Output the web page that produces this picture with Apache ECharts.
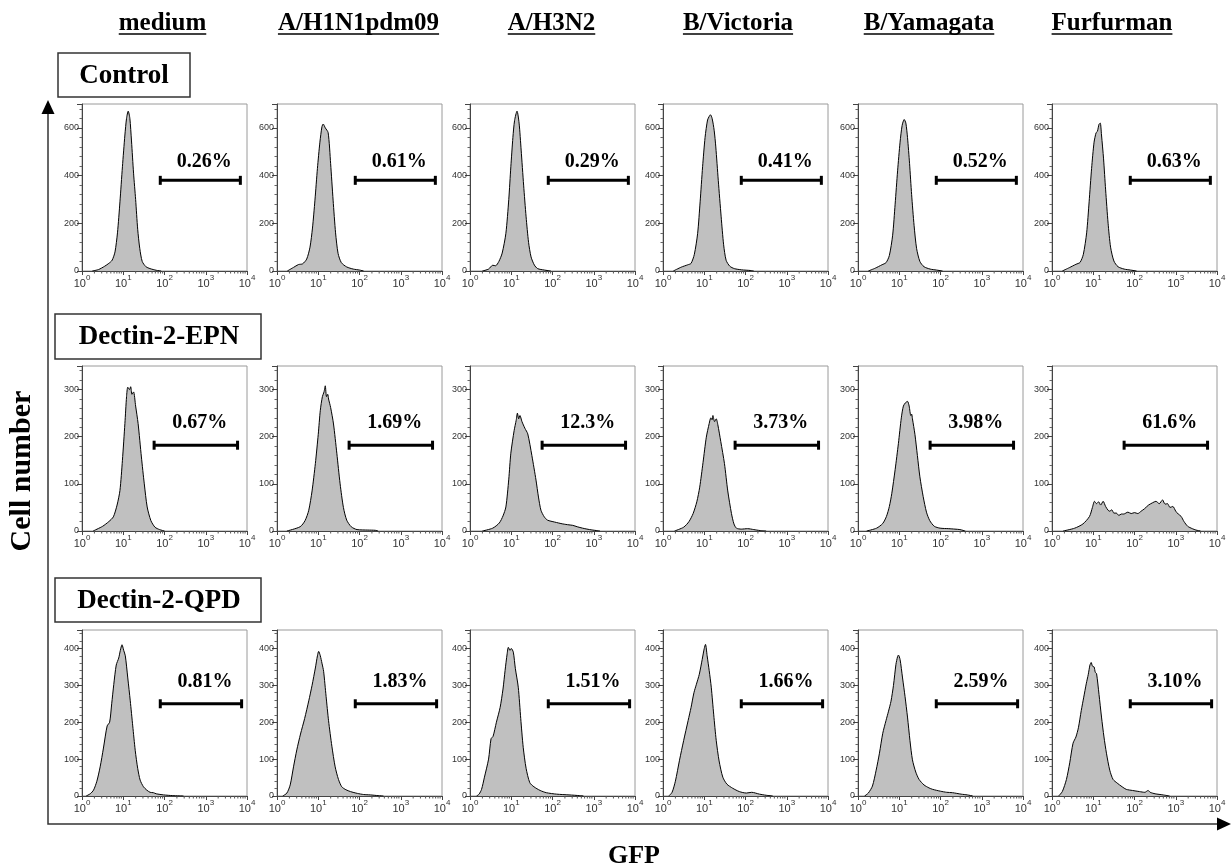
<!DOCTYPE html>
<html><head><meta charset="utf-8">
<script src="https://cdn.jsdelivr.net/npm/echarts@6/dist/echarts.min.js"></script>
<style>html,body{margin:0;padding:0;background:#fff;}#c{width:1231px;height:868px;}</style>
</head><body><div id="c"></div>
<script>
// ---------------- DATA ----------------
const columns = ['medium', 'A/H1N1pdm09', 'A/H3N2', 'B/Victoria', 'B/Yamagata', 'Furfurman'];
const groups = ['Control', 'Dectin-2-EPN', 'Dectin-2-QPD'];
const percentControl = ['0.26%', '0.61%', '0.29%', '0.41%', '0.52%', '0.63%'];
const percentEPN = ['0.67%', '1.69%', '12.3%', '3.73%', '3.98%', '61.6%'];
const percentQPD = ['0.81%', '1.83%', '1.51%', '1.66%', '2.59%', '3.10%'];
const yMaxByRow = [700, 350, 450];
const yStepByRow = [200, 100, 100];
const minorTicksX = [2,3,4,5,6,7,8,9,20,30,40,50,60,70,80,90,200,300,400,500,600,700,800,900,2000,3000,4000,5000,6000,7000,8000,9000];
// gate (marker bar) per row: GFP from, GFP to, cell-number level
const gateFrom = [79, 56, 79];
const gateTo = [6900, 5900, 7400];
const gateLevel = [380, 182, 250];

// histograms: [log10(GFP), cell number]
const ctlMedium = [[0.25,0],[0.4,6],[0.55,20],[0.65,32],[0.73,45],[0.8,80],[0.86,160],[0.92,290],[0.98,437],[1.04,570],[1.08,640],[1.12,670],[1.16,640],[1.2,545],[1.25,410],[1.3,300],[1.35,175],[1.4,95],[1.46,40],[1.55,18],[1.65,10],[1.8,3],[1.92,0]];
const ctlH1N1 = [[0.25,0],[0.4,15],[0.52,27],[0.62,30],[0.72,50],[0.8,100],[0.86,180],[0.92,297],[0.98,430],[1.04,540],[1.09,605],[1.12,616],[1.17,600],[1.24,580],[1.3,450],[1.36,297],[1.42,160],[1.48,74],[1.56,35],[1.69,17],[1.85,8],[2.0,4],[2.1,0]];
const ctlH3N2 = [[0.3,0],[0.45,8],[0.55,24],[0.62,22],[0.7,40],[0.78,75],[0.87,158],[0.94,300],[0.99,437],[1.04,560],[1.08,630],[1.14,670],[1.19,620],[1.24,507],[1.3,360],[1.36,227],[1.42,120],[1.48,59],[1.56,25],[1.64,10],[1.8,4],[1.96,0]];
const ctlVictoria = [[0.25,0],[0.44,16],[0.6,26],[0.68,32],[0.76,70],[0.84,158],[0.9,290],[0.96,437],[1.02,560],[1.08,633],[1.12,648],[1.15,655],[1.19,640],[1.24,590],[1.28,520],[1.34,380],[1.41,227],[1.47,110],[1.53,45],[1.62,20],[1.73,10],[1.9,5],[2.13,2],[2.2,0]];
const ctlYamagata = [[0.25,0],[0.42,12],[0.58,26],[0.68,35],[0.76,65],[0.84,150],[0.9,280],[0.96,420],[1.02,540],[1.07,610],[1.12,635],[1.16,620],[1.2,560],[1.25,450],[1.3,320],[1.36,190],[1.42,95],[1.5,40],[1.6,18],[1.75,8],[1.9,4],[2.05,0]];
const ctlFurfurman = [[0.25,0],[0.42,14],[0.58,28],[0.68,36],[0.76,70],[0.84,160],[0.9,290],[0.96,430],[1.02,540],[1.07,580],[1.1,585],[1.14,615],[1.17,620],[1.2,570],[1.25,470],[1.3,340],[1.36,200],[1.42,100],[1.5,42],[1.6,18],[1.75,8],[1.9,4],[2.05,0]];

const epnMedium = [[0.27,0],[0.5,10],[0.65,20],[0.76,30],[0.85,55],[0.92,86],[0.98,150],[1.04,228],[1.08,285],[1.11,305],[1.15,300],[1.18,306],[1.21,290],[1.25,295],[1.3,265],[1.36,228],[1.44,157],[1.51,100],[1.58,51],[1.67,22],[1.77,8],[1.88,3],[2.0,0]];
const epnH1N1 = [[0.24,0],[0.56,9],[0.68,22],[0.77,44],[0.85,85],[0.93,143],[1.0,205],[1.05,256],[1.1,285],[1.14,295],[1.17,308],[1.2,285],[1.23,290],[1.25,280],[1.3,262],[1.37,227],[1.45,165],[1.53,100],[1.61,50],[1.69,23],[1.8,9],[1.94,3],[2.2,2],[2.38,1.5],[2.45,0]];
const epnH3N2 = [[0.3,0],[0.55,6],[0.71,17],[0.8,32],[0.87,51],[0.94,110],[0.99,165],[1.07,213],[1.12,235],[1.15,250],[1.18,238],[1.21,245],[1.26,232],[1.33,218],[1.4,206],[1.5,160],[1.6,108],[1.66,72],[1.72,44],[1.8,30],[1.88,23],[2.05,19],[2.25,15],[2.4,13],[2.49,12],[2.6,9],[2.73,6],[2.9,3],[3.06,1],[3.15,0]];
const epnVictoria = [[0.28,0],[0.5,8],[0.63,20],[0.73,37],[0.82,62],[0.89,93],[0.97,145],[1.05,199],[1.12,228],[1.16,240],[1.19,236],[1.21,245],[1.25,232],[1.29,238],[1.33,225],[1.4,190],[1.49,143],[1.57,85],[1.66,37],[1.72,15],[1.78,6],[1.9,4],[2.05,5],[2.2,3],[2.35,1],[2.5,0]];
const epnYamagata = [[0.21,0],[0.45,6],[0.6,16],[0.69,31],[0.76,52],[0.82,80],[0.9,130],[0.98,186],[1.05,240],[1.1,265],[1.15,272],[1.2,275],[1.24,265],[1.28,245],[1.3,248],[1.32,238],[1.38,205],[1.44,160],[1.5,115],[1.58,73],[1.66,40],[1.74,22],[1.85,10],[1.99,6],[2.2,5],[2.35,4],[2.47,3],[2.6,0]];
const epnFurfurman = [[0.27,0],[0.55,6],[0.75,15],[0.91,31],[0.98,50],[1.03,63],[1.08,58],[1.13,62],[1.18,55],[1.24,63],[1.3,52],[1.36,44],[1.4,42],[1.45,45],[1.5,38],[1.56,38],[1.62,33],[1.68,36],[1.74,36],[1.84,40],[1.92,37],[2.0,39],[2.08,37],[2.16,42],[2.24,47],[2.34,55],[2.44,60],[2.52,63],[2.6,58],[2.68,66],[2.74,57],[2.8,58],[2.86,50],[2.93,52],[3.0,42],[3.06,36],[3.13,31],[3.2,20],[3.29,10],[3.4,5],[3.49,2],[3.6,0]];

const qpdMedium = [[0.1,0],[0.2,6],[0.28,16],[0.36,40],[0.44,79],[0.52,130],[0.61,190],[0.67,200],[0.72,250],[0.77,302],[0.83,355],[0.89,374],[0.93,395],[0.97,410],[1.01,395],[1.05,380],[1.11,320],[1.17,258],[1.23,190],[1.29,124],[1.35,75],[1.41,43],[1.49,25],[1.57,16],[1.65,10],[1.73,9],[1.8,6],[1.98,3],[2.2,1],[2.46,0]];
const qpdH1N1 = [[0.14,0],[0.24,8],[0.32,30],[0.4,79],[0.48,125],[0.57,168],[0.67,210],[0.77,258],[0.85,300],[0.93,347],[0.98,380],[1.01,392],[1.05,380],[1.09,360],[1.13,338],[1.19,270],[1.25,204],[1.33,135],[1.41,79],[1.49,45],[1.57,25],[1.67,17],[1.78,12],[1.95,7],[2.1,4],[2.26,3],[2.45,1],[2.58,0]];
const qpdH3N2 = [[0.16,0],[0.22,5],[0.28,18],[0.35,51],[0.45,100],[0.51,155],[0.56,162],[0.64,200],[0.73,240],[0.8,290],[0.85,340],[0.9,385],[0.93,403],[0.97,395],[1.0,400],[1.05,390],[1.1,345],[1.17,295],[1.23,210],[1.29,132],[1.36,75],[1.45,36],[1.55,25],[1.7,15],[1.85,9],[2.1,5],[2.4,3],[2.66,1],[2.75,0]];
const qpdVictoria = [[0.14,0],[0.22,10],[0.3,40],[0.4,97],[0.5,150],[0.61,205],[0.68,240],[0.75,280],[0.81,303],[0.88,330],[0.95,370],[1.0,400],[1.03,411],[1.07,380],[1.12,340],[1.17,295],[1.23,220],[1.29,151],[1.36,95],[1.45,51],[1.55,32],[1.69,21],[1.85,12],[2.02,8],[2.15,10],[2.34,5],[2.5,2],[2.66,0]];
const qpdYamagata = [[0.16,0],[0.25,8],[0.35,27],[0.44,70],[0.52,116],[0.6,170],[0.68,205],[0.74,230],[0.8,257],[0.86,300],[0.92,357],[0.96,378],[0.98,382],[1.02,370],[1.08,320],[1.14,270],[1.2,214],[1.26,150],[1.32,98],[1.4,65],[1.48,45],[1.6,30],[1.72,22],[1.81,18],[2.0,13],[2.15,10],[2.29,9],[2.5,5],[2.65,3],[2.78,0]];
const qpdFurfurman = [[0.16,0],[0.25,12],[0.35,45],[0.43,90],[0.51,143],[0.58,160],[0.64,185],[0.71,232],[0.77,268],[0.83,304],[0.88,330],[0.92,355],[0.95,362],[0.98,352],[1.02,350],[1.05,335],[1.08,332],[1.14,275],[1.2,214],[1.26,160],[1.32,116],[1.4,70],[1.48,45],[1.58,35],[1.7,25],[1.8,18],[1.95,15],[2.12,12],[2.25,10],[2.33,15],[2.38,10],[2.5,6],[2.69,3],[2.85,0]];

const histograms = [
  [ctlMedium, ctlH1N1, ctlH3N2, ctlVictoria, ctlYamagata, ctlFurfurman],
  [epnMedium, epnH1N1, epnH3N2, epnVictoria, epnYamagata, epnFurfurman],
  [qpdMedium, qpdH1N1, qpdH3N2, qpdVictoria, qpdYamagata, qpdFurfurman]
];
const percents = [percentControl, percentEPN, percentQPD];

// ---------------- LAYOUT ----------------
const colLeft = [82, 277, 470, 663, 858, 1052];
const panelW = 165;
const rowTop = [104, 366, 630];
const rowH = [167, 165, 166];
const labelGap = [9, 12, 12];
const headerX = [162.5, 358.5, 551.5, 738, 929, 1112];
const boxes = [
  {x: 58, y: 53, w: 132, h: 44, tx: 124, ty: 76},
  {x: 55, y: 314, w: 206, h: 45, tx: 159, ty: 337},
  {x: 55, y: 578, w: 206, h: 44, tx: 159, ty: 601}
];
const SERIF = '"Liberation Serif", "Times New Roman", serif';
const SANS = '"Liberation Sans", Arial, sans-serif';

const grids = [], xAxes = [], yAxes = [], series = [];
let idx = 0;
for (let r = 0; r < 3; r++) {
  for (let c = 0; c < 6; c++) {
    grids.push({left: colLeft[c], top: rowTop[r], width: panelW, height: rowH[r],
      show: true, borderColor: '#9a9a9a', borderWidth: 1, containLabel: false, outerBoundsMode: 'none'});
    xAxes.push({gridIndex: idx, type: 'log', logBase: 10, min: 1, max: 10000,
      axisLine: {show: true, lineStyle: {color: '#444', width: 1}},
      axisTick: {show: true, length: 4, lineStyle: {color: '#444'}},
      splitLine: {show: false},
      axisLabel: {margin: 3, color: '#333', fontFamily: SANS,
        formatter: v => '{b|10}{s|' + Math.round(Math.log10(v)) + '}',
        rich: {b: {fontSize: 11, lineHeight: 15, verticalAlign: 'bottom', fontFamily: SANS, color: '#333'},
               s: {fontSize: 8, lineHeight: 8, verticalAlign: 'top', fontFamily: SANS, color: '#333'}}}
    });
    yAxes.push({gridIndex: idx, type: 'value', min: 0, max: yMaxByRow[r], interval: yStepByRow[r],
      axisLine: {show: true, lineStyle: {color: '#444', width: 1}},
      axisTick: {show: true, length: 5, lineStyle: {color: '#444'}},
      minorTick: {show: true, splitNumber: 5, length: 2.5, lineStyle: {color: '#666'}},
      splitLine: {show: false},
      axisLabel: {fontSize: 9, color: '#333', margin: 3, fontFamily: SANS,
        showMaxLabel: false, formatter: v => (v > yMaxByRow[r] - 1 ? '' : String(v))}
    });
    const hist = histograms[r][c];
    series.push({type: 'line', xAxisIndex: idx, yAxisIndex: idx, smooth: 0.25, symbol: 'none',
      silent: true, lineStyle: {color: '#000', width: 1}, areaStyle: {color: '#c0c0c0', opacity: 1},
      data: hist.map(p => [Math.pow(10, p[0]), p[1]])});
    series.push({type: 'line', xAxisIndex: idx, yAxisIndex: idx, symbol: 'rect', symbolSize: [3, 9],
      silent: true, itemStyle: {color: '#000', opacity: 1}, lineStyle: {color: '#000', width: 3},
      data: [[gateFrom[r], gateLevel[r]], [gateTo[r], gateLevel[r]]]});
    series.push({type: 'scatter', xAxisIndex: idx, yAxisIndex: idx, symbolSize: 0, silent: true,
      itemStyle: {opacity: 1, color: '#000'},
      data: [[Math.sqrt(gateFrom[r] * gateTo[r]), gateLevel[r]]],
      label: {show: true, position: 'top', distance: labelGap[r], offset: [4, 0], opacity: 1,
        textBorderWidth: 0, formatter: percents[r][c], fontFamily: SERIF, fontWeight: 'bold',
        fontSize: 20, color: '#000'}});
    series.push({type: 'custom', xAxisIndex: idx, yAxisIndex: idx, clip: false, silent: true,
      data: minorTicksX.map(v => [v, 0]),
      renderItem: (params, api) => {
        const p = api.coord([api.value(0), 0]);
        return {type: 'line', shape: {x1: p[0], y1: p[1], x2: p[0], y2: p[1] + 2.5},
          style: {stroke: '#555', lineWidth: 1}};
      }});
    idx++;
  }
}

// ---------------- DECORATION ----------------
const measure = document.createElement('canvas').getContext('2d');
const HEADER_FONT = 'bold 25px ' + SERIF;
measure.font = HEADER_FONT;
const graphic = [];
columns.forEach((name, c) => {
  const w = measure.measureText(name).width;
  graphic.push({type: 'text', x: headerX[c], y: 24, style: {text: name, font: HEADER_FONT,
    fill: '#000', textAlign: 'center', textVerticalAlign: 'middle'}});
  graphic.push({type: 'line', shape: {x1: headerX[c] - w / 2, y1: 34, x2: headerX[c] + w / 2, y2: 34},
    style: {stroke: '#000', lineWidth: 1.6}});
});
groups.forEach((g, r) => {
  const b = boxes[r];
  graphic.push({type: 'rect', shape: {x: b.x, y: b.y, width: b.w, height: b.h},
    style: {fill: '#fff', stroke: '#333', lineWidth: 1.5}});
  graphic.push({type: 'text', x: b.tx, y: b.ty, style: {text: g, font: 'bold 27px ' + SERIF,
    fill: '#000', textAlign: 'center', textVerticalAlign: 'middle'}});
});
graphic.push({type: 'polyline', shape: {points: [[48, 112], [48, 824], [1220, 824]]},
  style: {stroke: '#333', lineWidth: 1.5, fill: null}});
graphic.push({type: 'polygon', shape: {points: [[48, 100], [41.5, 114], [54.5, 114]]}, style: {fill: '#000'}});
graphic.push({type: 'polygon', shape: {points: [[1231, 824], [1217, 817.5], [1217, 830.5]]}, style: {fill: '#000'}});
graphic.push({type: 'text', x: 22, y: 471, rotation: Math.PI / 2,
  style: {text: 'Cell number', font: 'bold 30px ' + SERIF, fill: '#000', textAlign: 'center', textVerticalAlign: 'middle'}});
graphic.push({type: 'text', x: 634, y: 856,
  style: {text: 'GFP', font: 'bold 26px ' + SERIF, fill: '#000', textAlign: 'center', textVerticalAlign: 'middle'}});

const chart = echarts.init(document.getElementById('c'), null, {renderer: 'canvas'});
chart.setOption({
  animation: false,
  backgroundColor: '#fff',
  grid: grids, xAxis: xAxes, yAxis: yAxes, series: series, graphic: graphic
});
</script></body></html>
